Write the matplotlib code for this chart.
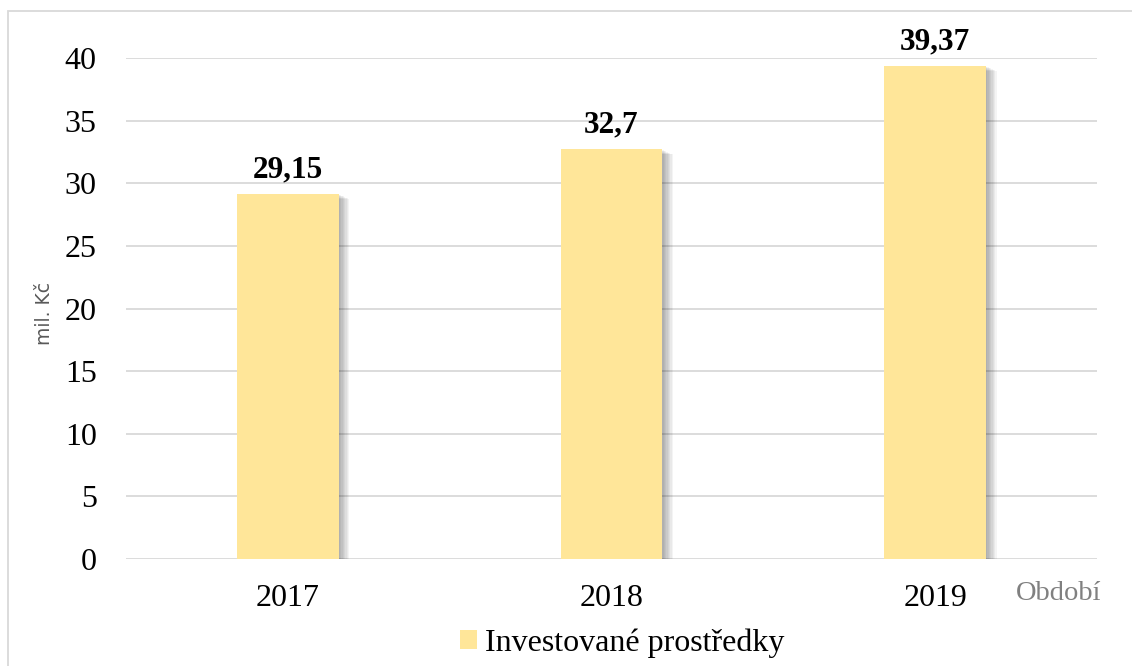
import matplotlib
matplotlib.use("Agg")
import matplotlib.pyplot as plt
from matplotlib.patches import Rectangle

categories = ["2017", "2018", "2019"]
values = [29.15, 32.7, 39.37]
labels = ["29,15", "32,7", "39,37"]
yticks = [0, 5, 10, 15, 20, 25, 30, 35, 40]
series_name = "Investované prostředky"

W, H = 1132, 666
fig = plt.figure(figsize=(W / 100, H / 100), dpi=100)
ax = fig.add_axes([126 / W, 1 - 559 / H, (1097 - 126) / W, (559 - 58) / H])

serif = "Liberation Serif"
bar_color = "#FFE699"
width = 0.315
x = list(range(len(categories)))

# soft shadow to the right of each bar
for i, v in zip(x, values):
    for k in range(8):
        off = 0.004 * (k + 1)
        ax.bar(i + off, v - 0.05 * (k + 1), width=width,
               color="black", alpha=0.045, zorder=2, linewidth=0)
ax.bar(x, values, width=width, color=bar_color, zorder=3, label=series_name, linewidth=0)

for i, v, t in zip(x, values, labels):
    ax.text(i, v + 1.35, t, ha="center", va="baseline", fontsize=22.5, fontweight="bold",
            family=serif, color="black", clip_on=False)

ax.set_xlim(-0.5, 2.5)
ax.set_ylim(0, 40)
ax.set_yticks(yticks)
ax.set_yticklabels([str(t) for t in yticks], family=serif, fontsize=23)
ax.set_xticks(x)
ax.set_xticklabels(categories, family=serif, fontsize=23)
ax.tick_params(axis="both", length=0)
ax.tick_params(axis="y", pad=21)
ax.tick_params(axis="x", pad=18)
ax.grid(axis="y", color="#D9D9D9", linewidth=1.3, zorder=0)
ax.set_axisbelow(True)
for s in ax.spines.values():
    s.set_visible(False)

fig.text(45 / W, 1 - 314 / H, "mil. Kč", rotation=90, ha="center", va="center",
         family="DejaVu Sans", fontsize=13.5, color="#595959")
fig.text(1016 / W, 1 - 594 / H, "Období", ha="left", va="center",
         family=serif, fontsize=20.5, color="#808080")

leg = fig.legend(loc="center", bbox_to_anchor=(622 / W, 1 - 643 / H), frameon=False,
                 prop={"family": serif, "size": 23}, handlelength=0.55, handleheight=0.55,
                 handletextpad=0.25, borderpad=0)

# outer chart border
fig.patches.append(Rectangle((8 / W, -0.05), 1.2, (1 - 11 / H) + 0.05, transform=fig.transFigure,
                             fill=False, edgecolor="#D9D9D9", linewidth=1.3))

fig.savefig("out.png", dpi=100)
